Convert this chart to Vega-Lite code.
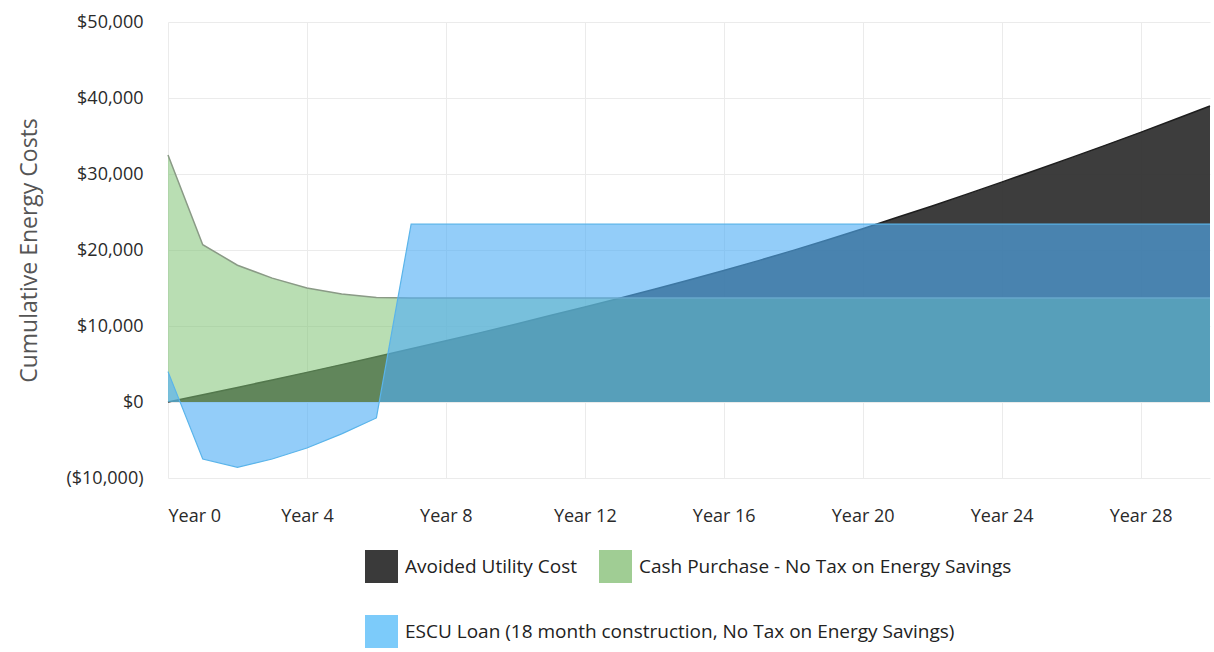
{
  "$schema": "https://vega.github.io/schema/vega-lite/v6.json",
  "width": 1042,
  "height": 456,
  "autosize": {"type": "none"},
  "padding": {"left": 168, "top": 22, "right": 4, "bottom": 174},
  "background": "white",
  "config": {"view": {"stroke": null}, "font": "Open Sans"},
  "data": {"values": [
    {"year": 0, "series": "Avoided Utility Cost", "value": 0},
    {"year": 1, "series": "Avoided Utility Cost", "value": 950},
    {"year": 2, "series": "Avoided Utility Cost", "value": 1920},
    {"year": 3, "series": "Avoided Utility Cost", "value": 2900},
    {"year": 4, "series": "Avoided Utility Cost", "value": 3900},
    {"year": 5, "series": "Avoided Utility Cost", "value": 4920},
    {"year": 6, "series": "Avoided Utility Cost", "value": 5950},
    {"year": 7, "series": "Avoided Utility Cost", "value": 7000},
    {"year": 8, "series": "Avoided Utility Cost", "value": 8050},
    {"year": 9, "series": "Avoided Utility Cost", "value": 9130},
    {"year": 10, "series": "Avoided Utility Cost", "value": 10240},
    {"year": 11, "series": "Avoided Utility Cost", "value": 11370},
    {"year": 12, "series": "Avoided Utility Cost", "value": 12500},
    {"year": 13, "series": "Avoided Utility Cost", "value": 13650},
    {"year": 14, "series": "Avoided Utility Cost", "value": 14830},
    {"year": 15, "series": "Avoided Utility Cost", "value": 16050},
    {"year": 16, "series": "Avoided Utility Cost", "value": 17300},
    {"year": 17, "series": "Avoided Utility Cost", "value": 18600},
    {"year": 18, "series": "Avoided Utility Cost", "value": 19950},
    {"year": 19, "series": "Avoided Utility Cost", "value": 21350},
    {"year": 20, "series": "Avoided Utility Cost", "value": 22800},
    {"year": 21, "series": "Avoided Utility Cost", "value": 24300},
    {"year": 22, "series": "Avoided Utility Cost", "value": 25800},
    {"year": 23, "series": "Avoided Utility Cost", "value": 27350},
    {"year": 24, "series": "Avoided Utility Cost", "value": 28930},
    {"year": 25, "series": "Avoided Utility Cost", "value": 30530},
    {"year": 26, "series": "Avoided Utility Cost", "value": 32150},
    {"year": 27, "series": "Avoided Utility Cost", "value": 33800},
    {"year": 28, "series": "Avoided Utility Cost", "value": 35480},
    {"year": 29, "series": "Avoided Utility Cost", "value": 37200},
    {"year": 30, "series": "Avoided Utility Cost", "value": 38950},
    {"year": 0, "series": "Cash Purchase - No Tax on Energy Savings", "value": 32500},
    {"year": 1, "series": "Cash Purchase - No Tax on Energy Savings", "value": 20700},
    {"year": 2, "series": "Cash Purchase - No Tax on Energy Savings", "value": 18000},
    {"year": 3, "series": "Cash Purchase - No Tax on Energy Savings", "value": 16300},
    {"year": 4, "series": "Cash Purchase - No Tax on Energy Savings", "value": 15000},
    {"year": 5, "series": "Cash Purchase - No Tax on Energy Savings", "value": 14200},
    {"year": 6, "series": "Cash Purchase - No Tax on Energy Savings", "value": 13750},
    {"year": 7, "series": "Cash Purchase - No Tax on Energy Savings", "value": 13700},
    {"year": 8, "series": "Cash Purchase - No Tax on Energy Savings", "value": 13700},
    {"year": 9, "series": "Cash Purchase - No Tax on Energy Savings", "value": 13700},
    {"year": 10, "series": "Cash Purchase - No Tax on Energy Savings", "value": 13700},
    {"year": 11, "series": "Cash Purchase - No Tax on Energy Savings", "value": 13700},
    {"year": 12, "series": "Cash Purchase - No Tax on Energy Savings", "value": 13700},
    {"year": 13, "series": "Cash Purchase - No Tax on Energy Savings", "value": 13700},
    {"year": 14, "series": "Cash Purchase - No Tax on Energy Savings", "value": 13700},
    {"year": 15, "series": "Cash Purchase - No Tax on Energy Savings", "value": 13700},
    {"year": 16, "series": "Cash Purchase - No Tax on Energy Savings", "value": 13700},
    {"year": 17, "series": "Cash Purchase - No Tax on Energy Savings", "value": 13700},
    {"year": 18, "series": "Cash Purchase - No Tax on Energy Savings", "value": 13700},
    {"year": 19, "series": "Cash Purchase - No Tax on Energy Savings", "value": 13700},
    {"year": 20, "series": "Cash Purchase - No Tax on Energy Savings", "value": 13700},
    {"year": 21, "series": "Cash Purchase - No Tax on Energy Savings", "value": 13700},
    {"year": 22, "series": "Cash Purchase - No Tax on Energy Savings", "value": 13700},
    {"year": 23, "series": "Cash Purchase - No Tax on Energy Savings", "value": 13700},
    {"year": 24, "series": "Cash Purchase - No Tax on Energy Savings", "value": 13700},
    {"year": 25, "series": "Cash Purchase - No Tax on Energy Savings", "value": 13700},
    {"year": 26, "series": "Cash Purchase - No Tax on Energy Savings", "value": 13700},
    {"year": 27, "series": "Cash Purchase - No Tax on Energy Savings", "value": 13700},
    {"year": 28, "series": "Cash Purchase - No Tax on Energy Savings", "value": 13700},
    {"year": 29, "series": "Cash Purchase - No Tax on Energy Savings", "value": 13700},
    {"year": 30, "series": "Cash Purchase - No Tax on Energy Savings", "value": 13700},
    {"year": 0, "series": "ESCU Loan (18 month construction, No Tax on Energy Savings)", "value": 4000},
    {"year": 1, "series": "ESCU Loan (18 month construction, No Tax on Energy Savings)", "value": -7500},
    {"year": 2, "series": "ESCU Loan (18 month construction, No Tax on Energy Savings)", "value": -8600},
    {"year": 3, "series": "ESCU Loan (18 month construction, No Tax on Energy Savings)", "value": -7500},
    {"year": 4, "series": "ESCU Loan (18 month construction, No Tax on Energy Savings)", "value": -6050},
    {"year": 5, "series": "ESCU Loan (18 month construction, No Tax on Energy Savings)", "value": -4200},
    {"year": 6, "series": "ESCU Loan (18 month construction, No Tax on Energy Savings)", "value": -2100},
    {"year": 7, "series": "ESCU Loan (18 month construction, No Tax on Energy Savings)", "value": 23400},
    {"year": 8, "series": "ESCU Loan (18 month construction, No Tax on Energy Savings)", "value": 23400},
    {"year": 9, "series": "ESCU Loan (18 month construction, No Tax on Energy Savings)", "value": 23400},
    {"year": 10, "series": "ESCU Loan (18 month construction, No Tax on Energy Savings)", "value": 23400},
    {"year": 11, "series": "ESCU Loan (18 month construction, No Tax on Energy Savings)", "value": 23400},
    {"year": 12, "series": "ESCU Loan (18 month construction, No Tax on Energy Savings)", "value": 23400},
    {"year": 13, "series": "ESCU Loan (18 month construction, No Tax on Energy Savings)", "value": 23400},
    {"year": 14, "series": "ESCU Loan (18 month construction, No Tax on Energy Savings)", "value": 23400},
    {"year": 15, "series": "ESCU Loan (18 month construction, No Tax on Energy Savings)", "value": 23400},
    {"year": 16, "series": "ESCU Loan (18 month construction, No Tax on Energy Savings)", "value": 23400},
    {"year": 17, "series": "ESCU Loan (18 month construction, No Tax on Energy Savings)", "value": 23400},
    {"year": 18, "series": "ESCU Loan (18 month construction, No Tax on Energy Savings)", "value": 23400},
    {"year": 19, "series": "ESCU Loan (18 month construction, No Tax on Energy Savings)", "value": 23400},
    {"year": 20, "series": "ESCU Loan (18 month construction, No Tax on Energy Savings)", "value": 23400},
    {"year": 21, "series": "ESCU Loan (18 month construction, No Tax on Energy Savings)", "value": 23400},
    {"year": 22, "series": "ESCU Loan (18 month construction, No Tax on Energy Savings)", "value": 23400},
    {"year": 23, "series": "ESCU Loan (18 month construction, No Tax on Energy Savings)", "value": 23400},
    {"year": 24, "series": "ESCU Loan (18 month construction, No Tax on Energy Savings)", "value": 23400},
    {"year": 25, "series": "ESCU Loan (18 month construction, No Tax on Energy Savings)", "value": 23400},
    {"year": 26, "series": "ESCU Loan (18 month construction, No Tax on Energy Savings)", "value": 23400},
    {"year": 27, "series": "ESCU Loan (18 month construction, No Tax on Energy Savings)", "value": 23400},
    {"year": 28, "series": "ESCU Loan (18 month construction, No Tax on Energy Savings)", "value": 23400},
    {"year": 29, "series": "ESCU Loan (18 month construction, No Tax on Energy Savings)", "value": 23400},
    {"year": 30, "series": "ESCU Loan (18 month construction, No Tax on Energy Savings)", "value": 23400}
  ]},
  "encoding": {
    "x": {
      "field": "year", "type": "quantitative",
      "scale": {"domain": [0, 30], "nice": false, "zero": false},
      "axis": {
        "title": null, "values": [0, 4, 8, 12, 16, 20, 24, 28],
        "labelExpr": "'Year ' + datum.value",
        "labelFontSize": 18, "labelColor": "#2a2a2a", "labelPadding": 29,
        "domain": false, "ticks": false,
        "grid": true, "gridColor": "#ebebeb", "gridWidth": 1
      }
    },
    "y": {
      "field": "value", "type": "quantitative", "stack": null,
      "scale": {"domain": [-10000, 50000], "nice": false},
      "axis": {
        "title": "Cumulative Energy Costs", "titleFontSize": 23, "titleFontWeight": "normal",
        "titleColor": "#555", "titlePadding": 24,
        "values": [-10000, 0, 10000, 20000, 30000, 40000, 50000],
        "labelExpr": "datum.value < 0 ? '(' + format(-datum.value, '$,') + ')' : format(datum.value, '$,')",
        "labelFontSize": 18, "labelColor": "#2a2a2a", "labelPadding": 25,
        "domain": false, "ticks": false,
        "grid": true, "gridColor": "#ebebeb", "gridWidth": 1
      }
    }
  },
  "layer": [
    {
      "transform": [{"filter": "datum.series === 'Avoided Utility Cost'"}],
      "mark": {"type": "area", "fillOpacity": 0.95},
      "encoding": {"fill": {"field": "series", "type": "nominal",
        "scale": {"domain": ["Avoided Utility Cost", "Cash Purchase - No Tax on Energy Savings", "ESCU Loan (18 month construction, No Tax on Energy Savings)"],
                  "range": ["#333333", "#7fc274", "#50aff5"]},
        "legend": null}}
    },
    {
      "transform": [{"filter": "datum.series === 'Avoided Utility Cost'"}],
      "mark": {"type": "line", "color": "#1e1e1e", "strokeWidth": 1.5},
      "encoding": {}
    },
    {
      "transform": [{"filter": "datum.series === 'Cash Purchase - No Tax on Energy Savings'"}],
      "mark": {"type": "area", "fillOpacity": 0.55},
      "encoding": {"fill": {"field": "series", "type": "nominal", "legend": null}}
    },
    {
      "transform": [{"filter": "datum.series === 'Cash Purchase - No Tax on Energy Savings'"}],
      "mark": {"type": "line", "color": "#8a9a86", "strokeWidth": 1.5},
      "encoding": {}
    },
    {
      "transform": [{"filter": "datum.series === 'ESCU Loan (18 month construction, No Tax on Energy Savings)'"}],
      "mark": {"type": "area", "fillOpacity": 0.62},
      "encoding": {"fill": {"field": "series", "type": "nominal", "legend": null}}
    },
    {
      "transform": [{"filter": "datum.series === 'ESCU Loan (18 month construction, No Tax on Energy Savings)'"}],
      "mark": {"type": "line", "color": "#5ab4ea", "strokeWidth": 1.2},
      "encoding": {}
    },
    {
      "transform": [{"filter": "false"}],
      "mark": {"type": "square"},
      "encoding": {"color": {"field": "series", "type": "nominal",
        "scale": {"domain": ["Avoided Utility Cost", "Cash Purchase - No Tax on Energy Savings"],
                  "range": ["#3a3a3a", "#a0cd94"]},
        "legend": {"title": null, "orient": "none", "legendX": 197, "legendY": 528,
          "direction": "horizontal", "symbolType": "square", "symbolSize": 1089,
          "symbolStrokeWidth": 0, "symbolOpacity": 1,
          "labelFontSize": 19, "labelColor": "#222", "labelLimit": 800,
          "columnPadding": 21, "labelOffset": 7}}}
    },
    {
      "transform": [{"filter": "false"}],
      "mark": {"type": "point", "filled": true, "color": "#7ccbfa", "opacity": 1},
      "encoding": {"shape": {"field": "series", "type": "nominal",
        "scale": {"domain": ["ESCU Loan (18 month construction, No Tax on Energy Savings)"], "range": ["square"]},
        "legend": {"title": null, "orient": "none", "legendX": 197, "legendY": 593,
          "direction": "horizontal", "symbolSize": 1089,
          "symbolStrokeWidth": 0, "symbolOpacity": 1, "symbolFillColor": "#7ccbfa",
          "labelFontSize": 19, "labelColor": "#222", "labelLimit": 800,
          "labelOffset": 7}}}
    }
  ]
}
